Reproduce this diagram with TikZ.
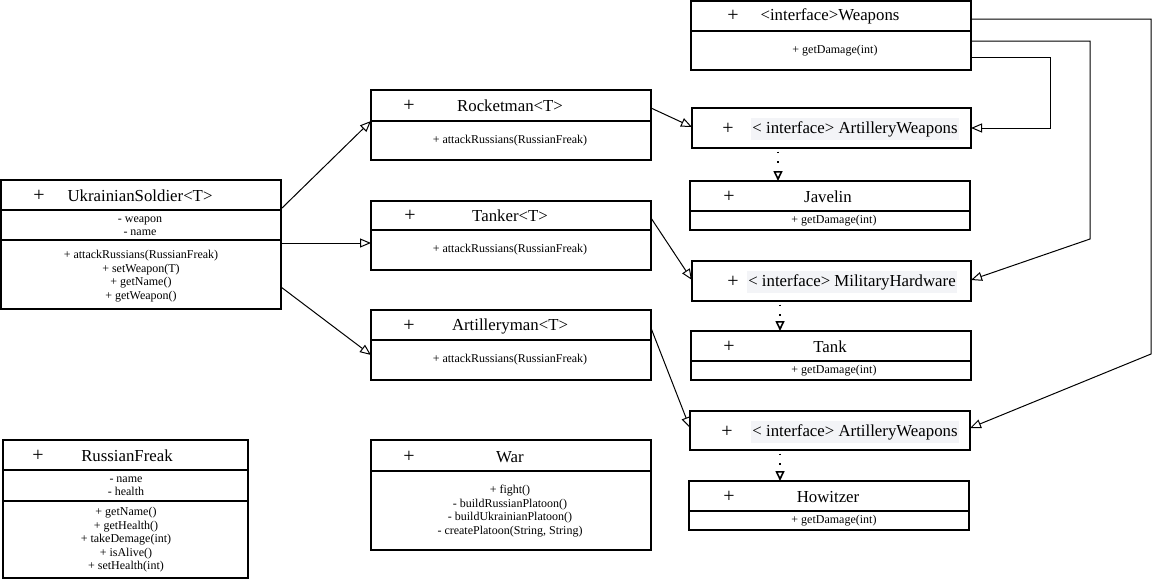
\documentclass[tikz,border=0pt]{standalone}
\usepackage{fontspec}
\setmainfont{Liberation Serif}
\usetikzlibrary{arrows.meta}
\definecolor{hl}{RGB}{243,244,247}
\newcommand\umlbox[5]{\node[box, minimum width={(#4-#2)*1pt}, minimum height={(#5-#3)*1pt}] (#1) at ({(#2+#4)/2},{(#3+#5)/2}) {};}
\newcommand\umldiv[2]{\draw[divline] (#1.west |- 0,#2) -- (#1.east |- 0,#2);}
\begin{document}
\begin{tikzpicture}[x=1pt,y=-1pt,
  box/.style={draw, line width=1.1pt, inner sep=0pt, outer sep=0pt},
  divline/.style={line width=1.1pt},
  big/.style={font=\fontsize{16.8}{20}\selectfont, inner sep=0pt},
  plus/.style={font=\fontsize{20}{20}\selectfont, inner sep=0pt},
  small/.style={font=\fontsize{12}{13.5}\selectfont, inner sep=0pt, align=center},
  hlbox/.style={big, fill=hl, inner xsep=1pt, inner ysep=3pt},
  inh/.style={line width=1pt, -{Triangle[open, length=11pt, width=9pt]}},
  real/.style={line width=1.8pt, dash pattern=on 1.8pt off 7.8pt, -{Triangle[open, length=10pt, width=9pt, line width=1.6pt]}},
]
\useasboundingbox (0,0) rectangle (1161,581);

% ---------- boxes ----------
\umlbox{weap}{691}{1}{971}{70}
\umldiv{weap}{31}
\umlbox{aw1}{692}{108}{971}{148}
\umlbox{jav}{690}{181}{970}{230}
\umldiv{jav}{211}
\umlbox{mh}{692}{261}{971}{301}
\umlbox{tank}{691}{331}{971}{380}
\umldiv{tank}{361}
\umlbox{aw2}{690}{411}{970}{450}
\umlbox{how}{689}{481}{969}{530}
\umldiv{how}{511}
\umlbox{us}{1}{180}{281}{309}
\umldiv{us}{210}
\umldiv{us}{240}
\umlbox{rock}{371}{90}{651}{160}
\umldiv{rock}{121}
\umlbox{tanker}{371}{201}{651}{270}
\umldiv{tanker}{230}
\umlbox{art}{371}{310}{651}{380}
\umldiv{art}{340}
\umlbox{rf}{3}{440}{248}{578}
\umldiv{rf}{470}
\umldiv{rf}{501}
\umlbox{war}{371}{440}{651}{550}
\umldiv{war}{471}

% ---------- texts ----------
\node[plus] (weapP) at (733,16) {+};
\node[big] (weapT) at (830,16) {<interface>Weapons};
\node[small] (weapM) at (835,51) {+ getDamage(int)};

\node[plus] (aw1P) at (728,129) {+};
\node[hlbox] (aw1T) at (855,129) {< interface> ArtilleryWeapons};

\node[plus] (javP) at (729,197) {+};
\node[big] (javT) at (828,197) {Javelin};
\node[small] (javM) at (834,221) {+ getDamage(int)};

\node[plus] (mhP) at (733,282) {+};
\node[hlbox] (mhT) at (852,282) {< interface> MilitaryHardware};

\node[plus] (tankP) at (729,347) {+};
\node[big] (tankT) at (830,347) {Tank};
\node[small] (tankM) at (834,371) {+ getDamage(int)};

\node[plus] (aw2P) at (727,432) {+};
\node[hlbox] (aw2T) at (855,432) {< interface> ArtilleryWeapons};

\node[plus] (howP) at (729,497) {+};
\node[big] (howT) at (828,497) {Howitzer};
\node[small] (howM) at (834,521) {+ getDamage(int)};

\node[plus] (usP) at (39,196) {+};
\node[big] (usT) at (140,196) {UkrainianSoldier<T>};
\node[small] (usF) at (140,226) {- weapon\\- name};
\node[small] (usM) at (141,276) {+ attackRussians(RussianFreak)\\+ setWeapon(T)\\+ getName()\\+ getWeapon()};

\node[plus] (rockP) at (409,106) {+};
\node[big] (rockT) at (510,106) {Rocketman<T>};
\node[small] (rockM) at (510,141) {+ attackRussians(RussianFreak)};

\node[plus] (tankerP) at (410,216) {+};
\node[big] (tankerT) at (510,216) {Tanker<T>};
\node[small] (tankerM) at (510,250) {+ attackRussians(RussianFreak)};

\node[plus] (artP) at (409,326) {+};
\node[big] (artT) at (510,326) {Artilleryman<T>};
\node[small] (artM) at (510,360) {+ attackRussians(RussianFreak)};

\node[plus] (rfP) at (38,456) {+};
\node[big] (rfT) at (127,456) {RussianFreak};
\node[small] (rfF) at (126,486) {- name\\- health};
\node[small] (rfM) at (126,540) {+ getName()\\+ getHealth()\\+ takeDemage(int)\\+ isAlive()\\+ setHealth(int)};

\node[plus] (warP) at (409,457) {+};
\node[big] (warT) at (510,457) {War};
\node[small] (warM) at (510,511) {+ fight()\\- buildRussianPlatoon()\\- buildUkrainianPlatoon()\\- createPlatoon(String, String)};

% ---------- connectors ----------
\draw[inh] (us.east |- 0,209) -- (rock.west |- 0,121);
\draw[inh] (us.east |- 0,243) -- (tanker.west |- 0,243);
\draw[inh] (us.east |- 0,287) -- (art.west |- 0,355);
\draw[inh] (rock.east |- 0,108) -- (aw1.west |- 0,127);
\draw[inh] (tanker.east |- 0,218) -- (mh.west |- 0,280);
\draw[inh] (art.east |- 0,328) -- (aw2.west |- 0,428);

\coordinate (c1a) at (1050,57);
\coordinate (c1b) at (1050,128);
\coordinate (c2a) at (1090,41);
\coordinate (c2b) at (1090,239);
\coordinate (c3a) at (1151,19);
\coordinate (c3b) at (1151,354);
\draw[inh] (weap.east |- c1a) -- (c1a) -- (c1b) -- (aw1.east |- c1b);
\draw[inh] (weap.east |- c2a) -- (c2a) -- (c2b) -- (mh.east |- 0,280);
\draw[inh] (weap.east |- c3a) -- (c3a) -- (c3b) -- (aw2.east |- 0,428);

\draw[real] (778,151.5) -- (jav.north -| 778,0);
\draw[real] (780,304.5) -- (tank.north -| 780,0);
\draw[real] (780,453.5) -- (how.north -| 780,0);
\end{tikzpicture}
\end{document}
